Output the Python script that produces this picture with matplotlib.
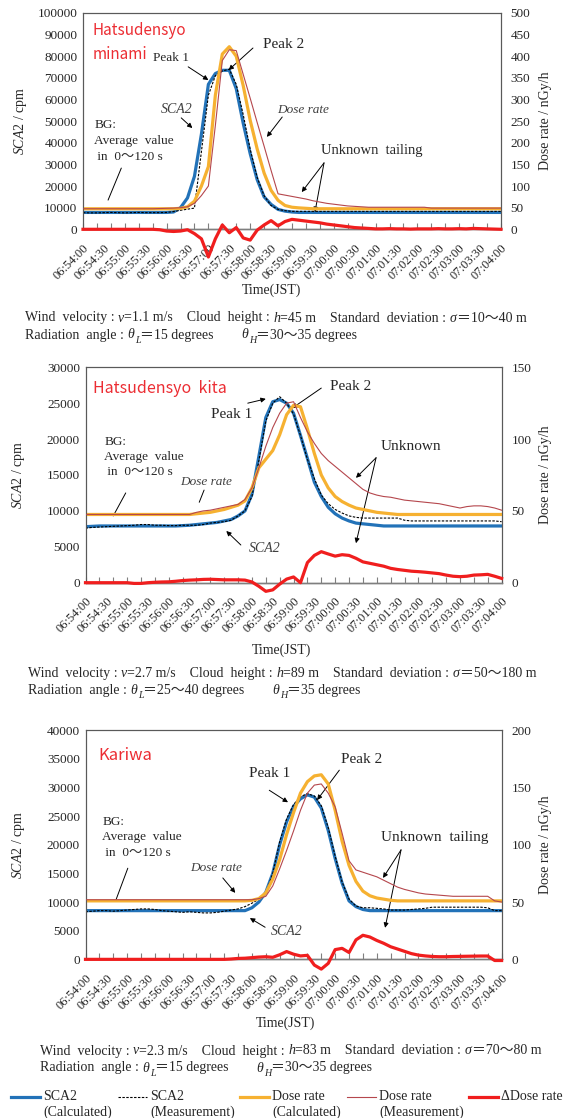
import numpy as np
import matplotlib
matplotlib.use('Agg')
import matplotlib.pyplot as plt
from matplotlib.ticker import MultipleLocator, FormatStrFormatter

plt.rcParams['font.family'] = ['Liberation Serif', 'Noto Sans CJK JP']
plt.rcParams['mathtext.fontset'] = 'custom'
plt.rcParams['mathtext.rm'] = 'Liberation Serif'
plt.rcParams['mathtext.it'] = 'Liberation Serif:italic'

# seconds after 06:54:00, one reading every 10 s
t = np.arange(0, 601, 10)
time_labels = ['06:54:00', '06:54:30', '06:55:00', '06:55:30', '06:56:00', '06:56:30',
               '06:57:00', '06:57:30', '06:58:00', '06:58:30', '06:59:00', '06:59:30',
               '07:00:00', '07:00:30', '07:01:00', '07:01:30', '07:02:00', '07:02:30',
               '07:03:00', '07:03:30', '07:04:00']

# --- Hatsudensyo minami ---
sca2_calc_1 = [7800] * 13 + [8000, 10000, 14500, 24500, 44000, 67000, 72000, 73500, 73500,
                             65000, 49000, 35000, 23000, 15000, 11500, 9200, 8400, 8000] + [7800] * 30
sca2_meas_1 = [7700, 7600, 7600, 7700, 7800, 7700, 7600, 7700, 7800, 7700, 7700, 7700, 7800,
               8200, 8800, 9300, 9800, 36000, 62000, 71000, 73200, 74000, 67000, 53000, 37000,
               24000, 15500, 11000, 9200, 8600] + [8300] * 31
dose_calc_1 = [47.5] * 14 + [48.5, 52, 65, 100, 145, 310, 405, 422, 400, 332, 252, 186, 130,
                             90, 67, 55, 51, 49.5, 48.5] + [47.5] * 28
dose_meas_1 = [47.5] * 11 + [48, 48.5, 49, 50, 52, 60, 78, 100, 240, 390, 415, 413, 358, 303,
                             247, 192, 136, 82, 79, 76, 73, 70, 66, 63, 60, 58, 56, 54, 53, 52] \
              + [51] * 9 + [49] * 11
dose_diff_1 = [0] * 11 + [-1, -4, -5, -4, -1, -10, -22, -64, -22, 10, -8, 4, -20, -25, -2, 10,
                          20, 8, 18, 23, 21, 19, 17, 15, 12, 10, 8, 6, 4, 3, 2] \
              + [1, 1, 1.5, 1, 1, 0.5, 1, 1, 1, 1.5, 1, 1, 1.5, 1, 2, 1.5, 1, 0.5, 0]

# --- Hatsudensyo kita ---
sca2_calc_2 = [7800, 7850] + [7900] * 12 + [7950, 8000, 8100, 8200, 8300, 8400, 8600, 8800,
                                            9300, 10000, 12300, 17600, 23000, 25200, 25500,
                                            25000, 23600, 20500, 17300, 14000, 12000, 10500,
                                            9600, 9000, 8600, 8300, 8200, 8100, 8000] + [7900] * 18
sca2_meas_2 = [7600, 7700, 7750, 7800, 7850, 7900, 7950, 8000, 8100, 8100, 8000, 8000, 7950,
               7950, 8000, 8000, 8000, 8100, 8300, 8400, 8500, 8700, 9300, 10000, 12000, 17000,
               22500, 25000, 25900, 25000, 23500, 20500, 17200, 14500, 12200, 11000, 10200,
               9700, 9300, 9100] + [9000] * 6 + [8700] + [8600] * 13 + [8500]
dose_calc_2 = [47.5] * 16 + [48, 48.5, 49, 50, 51, 52.5, 54, 57, 66, 80, 86, 92, 103, 117, 123.5,
                             122.5, 107, 90, 75, 66, 60, 56.5, 54, 52, 51, 50, 49, 48.5, 48] \
              + [47.5] * 16
dose_meas_2 = [47.5] * 16 + [49, 50, 50.5, 51.5, 52.5, 53.5, 54.5, 58, 66, 80, 95, 108, 118, 125,
                             126, 115, 105, 97, 90, 85, 81, 77, 73, 69, 65, 62.5, 61, 60, 59.5,
                             58.5, 57.5, 57, 56.5, 56, 55.5, 55, 54, 53, 52, 53, 53.5, 53.5, 53,
                             52, 50.5]
dose_diff_2 = [0] * 7 + [-0.5, -0.5, 0, 0.3, 0.5, 0.6, 1, 1.5, 1.8, 2, 2.3, 2.4, 2.2, 2, 2, 2,
                         1.8, 0.5, -2.5, -6, -5, -1, 2.5, 4, 0, 14, 19, 21.6, 20, 18.5, 19.5, 19,
                         17, 14.5, 13.5, 12.5, 11.5, 10, 9.2, 8.6, 8, 7.7, 7.3, 6.8, 6.3, 5.3, 4.5,
                         4.2, 4.5, 5.3, 5.5, 5.8, 4.5, 3]

# --- Kariwa ---
sca2_calc_3 = [8500] * 24 + [9000, 10000, 11700, 15000, 20000, 24000, 26700, 28000, 28700,
                             28300, 26400, 22500, 17600, 13300, 10200, 9200, 8700] + [8500] * 20
sca2_meas_3 = [8300, 8400, 8500, 8500, 8400, 8500, 8600, 8700, 8800, 8800, 8700, 8500, 8400,
               8300, 8200, 8300, 8200, 8100, 8100, 8200, 8400, 8600, 8800, 9200, 9800, 10500,
               11500, 15000, 20500, 24500, 27000, 28400, 28900, 28500, 26800, 23000, 18000,
               13500, 10500, 9300, 9000, 9000, 8900, 8800, 8600, 8600, 8600, 8700, 8800, 8900] \
              + [9100] * 8 + [9000, 8500, 8500]
dose_calc_3 = [51] * 24 + [51.5, 53, 58, 70, 87, 109, 128, 145, 155, 160, 161, 153, 130, 103,
                           82, 68, 59.5, 55.5, 53.5, 52.5, 51.5] + [51] * 16
dose_meas_3 = [52] * 25 + [53, 55, 64, 79, 95, 112, 130, 145, 152, 153, 145, 133, 110, 86, 78,
                           76, 74, 72, 69, 66, 63, 61, 59.5, 58, 57, 56.5, 56, 55.5] \
              + [55] * 6 + [51, 50]
dose_diff_3 = [0] * 21 + [0.3, 0.8, 1, 1.5, 2, 2.3, 1.8, 4, 6.8, 4.5, 3, 3.5, -5, -8.5, -3.5,
                          8.5, 9.6, 6, 17, 21, 19.5, 16.5, 14, 11, 9, 7, 5, 3.7, 3, 2.5, 2.3, 2.3,
                          2.5, 2.6, 2.7, 2.8, 2.9, 2.9, -1, -1]

BLUE = '#2272b8'
ORANGE = '#f6b131'
BROWN = '#b5474d'
RED = '#f01e1e'
TITLE_RED = '#ec2d33'
GRID = '#7f7f7f'
TXT = '#262626'
SANS = ['Noto Sans CJK JP', 'DejaVu Sans']

fig = plt.figure(figsize=(5.7, 11.18), dpi=100)


def draw_panel(rect, sca2_calc, sca2_meas, dose_calc, dose_meas, dose_diff, cpm_max, dose_max,
               ylab_x):
    ax = fig.add_axes(rect)
    ax.plot(t, sca2_calc, color=BLUE, lw=2.3, zorder=2)
    ax.plot(t, sca2_meas, color='black', lw=0.8, ls=(0, (2.2, 1.3)), zorder=3)
    ax.set_xlim(0, 600)
    ax.set_ylim(0, cpm_max)
    ax.yaxis.set_major_locator(MultipleLocator(5000 if cpm_max < 50000 else 10000))
    ax.yaxis.set_major_formatter(FormatStrFormatter('%d'))
    ax.set_xticks(np.arange(0, 601, 30))
    ax.set_xticklabels(time_labels, rotation=45, ha='right', va='top', rotation_mode='anchor')
    ax.xaxis.set_minor_locator(MultipleLocator(20))
    ax.xaxis.remove_overlapping_locs = False
    ax.tick_params(axis='x', which='major', length=0, pad=9, labelsize=9, labelcolor=TXT)
    ax.tick_params(axis='x', which='minor', length=4, direction='in', color=GRID, width=0.8)
    ax.tick_params(axis='y', length=0, pad=4, labelsize=9.5, labelcolor=TXT)
    ax.set_ylabel(r'$\mathit{SCA2}$ / cpm', fontsize=10, color=TXT)
    ax.yaxis.set_label_coords(ylab_x, 0.5)

    ax2 = ax.twinx()
    ax2.plot(t, dose_calc, color=ORANGE, lw=2.3, zorder=2)
    ax2.plot(t, dose_meas, color=BROWN, lw=0.8, zorder=3)
    ax2.plot(t, dose_diff, color=RED, lw=2.3, zorder=4, clip_on=False)
    ax2.set_ylim(0, dose_max)
    ax2.yaxis.set_major_locator(MultipleLocator(50))
    ax2.tick_params(axis='y', length=0, pad=7, labelsize=9.5, labelcolor=TXT)
    ax2.set_ylabel('Dose rate / nGy/h', fontsize=10, color=TXT)
    ax2.yaxis.set_label_coords(1.09, 0.5)
    for a in (ax, ax2):
        for side in ('left', 'top', 'right'):
            a.spines[side].set_color('#595959')
            a.spines[side].set_linewidth(0.8)
        a.spines['bottom'].set_color(GRID)
        a.spines['bottom'].set_linewidth(1.0)
    return ax


def arrow(ax, tail, head, head_on=True):
    ax.annotate('', xy=head, xytext=tail,
                arrowprops=dict(arrowstyle='-|>' if head_on else '-', color='black', lw=0.7,
                                mutation_scale=7, shrinkA=0, shrinkB=0))


def label(ax, x, y, s, size, **kw):
    opts = dict(ha='center', va='center', color=TXT, fontsize=size)
    opts.update(kw)
    ax.text(x, y, s, **opts)


BG_TEXT = 'BG:\nAverage  value\n in  0～120 s'

# ---------- panel 1 ----------
ax = draw_panel([0.1456, 0.7949, 0.7333, 0.1935], sca2_calc_1, sca2_meas_1,
                dose_calc_1, dose_meas_1, dose_diff_1, 100000, 500, -0.128)
label(ax, 14, 92100, 'Hatsudensyo', 11, ha='left', color=TITLE_RED, family=SANS)
label(ax, 14, 80600, 'minami', 11, ha='left', color=TITLE_RED, family=SANS)
label(ax, 127, 79000, 'Peak 1', 9.5)
arrow(ax, (151, 75100), (180, 69000))
label(ax, 288, 85200, 'Peak 2', 11)
arrow(ax, (244, 83800), (209, 73600))
label(ax, 134, 55600, 'SCA2', 10, style='italic', color='#404040')
arrow(ax, (141, 51500), (157, 46800))
label(ax, 316, 55100, 'Dose rate', 9.5, style='italic', color='#404040')
arrow(ax, (286, 51900), (264, 42700))
label(ax, 16, 40800, BG_TEXT, 9.5, ha='left', linespacing=1.4)
arrow(ax, (55, 28300), (36, 13500), head_on=False)
label(ax, 414, 36600, 'Unknown  tailing', 10.5)
arrow(ax, (346, 30700), (314, 17200))
arrow(ax, (346, 30700), (333, 8000))

# ---------- panel 2 ----------
ax = draw_panel([0.150, 0.4788, 0.730, 0.1927], sca2_calc_2, sca2_meas_2,
                dose_calc_2, dose_meas_2, dose_diff_2, 30000, 150, -0.14)
label(ax, 11, 27100, 'Hatsudensyo  kita', 11.5, ha='left', color=TITLE_RED, family=SANS)
label(ax, 210, 23400, 'Peak 1', 11)
arrow(ax, (234, 25000), (260, 25600))
label(ax, 383, 27300, 'Peak 2', 11)
arrow(ax, (340, 27100), (298, 24300))
label(ax, 27, 17500, BG_TEXT, 9.5, ha='left', linespacing=1.35)
arrow(ax, (58, 12500), (40, 9300), head_on=False)
label(ax, 174, 14000, 'Dose rate', 9.5, style='italic', color='#404040')
arrow(ax, (171, 12900), (164, 11200), head_on=False)
label(ax, 258, 4800, 'SCA2', 10, style='italic', color='#404040')
arrow(ax, (224, 5250), (203, 7200))
label(ax, 469, 18900, 'Unknown', 11)
arrow(ax, (419, 17400), (390, 14600))
arrow(ax, (419, 17400), (390, 5500))

# ---------- panel 3 ----------
ax = draw_panel([0.150, 0.1419, 0.730, 0.2051], sca2_calc_3, sca2_meas_3,
                dose_calc_3, dose_meas_3, dose_diff_3, 40000, 200, -0.14)
label(ax, 18, 35600, 'Kariwa', 12, ha='left', color=TITLE_RED, family=SANS)
label(ax, 265, 32500, 'Peak 1', 11)
arrow(ax, (265, 29500), (292, 27400))
label(ax, 398, 34800, 'Peak 2', 11)
arrow(ax, (366, 33000), (334, 27800))
label(ax, 24, 21300, BG_TEXT, 9.5, ha='left', linespacing=1.4)
arrow(ax, (61, 15900), (44, 10400), head_on=False)
label(ax, 189, 15900, 'Dose rate', 9.5, style='italic', color='#404040')
arrow(ax, (198, 14200), (216, 11600))
label(ax, 290, 4900, 'SCA2', 10, style='italic', color='#404040')
arrow(ax, (259, 5600), (237, 7200))
label(ax, 503, 21300, 'Unknown  tailing', 11)
arrow(ax, (455, 19100), (429, 14200))
arrow(ax, (455, 19100), (432, 5500))

# ---------- figure-level texts (pixel coordinates of the page) ----------
over = fig.add_axes([0, 0, 1, 1])
over.set_xlim(0, 570)
over.set_ylim(1118, 0)
over.axis('off')


def rich_line(x, y, parts, size=10):
    prev = None
    base = None
    for s, kind in parts:
        kw = dict(fontsize=size, color=TXT, ha='left', va='bottom')
        if kind == 'i':
            kw['style'] = 'italic'
        if kind == 'sub':
            kw.update(style='italic', fontsize=size * 0.72)
            prev = over.annotate(s, xy=(1, 0), xycoords=prev, xytext=(0.3, -2.2),
                                 textcoords='offset points', **kw)
            continue
        if prev is None:
            prev = over.text(x, y, s, **kw)
        elif base is not None:
            prev = over.annotate(s, xy=(1, 0), xycoords=(prev, base), **kw)
        else:
            prev = over.annotate(s, xy=(1, 0), xycoords=prev, **kw)
        base = prev


def params(y, x, v, h, sig, thl, thh):
    rich_line(x, y, [('Wind  velocity : ', ''), ('v', 'i'), ('=%s m/s    Cloud  height : ' % v, ''),
                     ('h', 'i'), ('=%s m    Standard  deviation : ' % h, ''), ('σ', 'i'),
                     ('＝%s m' % sig, '')])
    rich_line(x, y + 17, [('Radiation  angle : ', ''), ('θ', 'i'), ('L', 'sub'),
                          ('＝%s degrees        ' % thl, ''), ('θ', 'i'), ('H', 'sub'),
                          ('＝%s degrees' % thh, '')])


over.text(272, 290, 'Time(JST)', ha='center', va='center', fontsize=10, color=TXT)
params(324.5, 25, '1.1', '45', '10～40', '15', '30～35')
over.text(281, 650, 'Time(JST)', ha='center', va='center', fontsize=10, color=TXT)
params(680, 28, '2.7', '89', '50～180', '25～40', '35')
over.text(286, 1023, 'Time(JST)', ha='center', va='center', fontsize=10, color=TXT)
params(1057.5, 40, '2.3', '83', '70～80', '15', '30～35')

# legend drawn by hand so that the key line sits on the first text line
legend_items = [('SCA2', '(Calculated)', dict(color=BLUE, lw=2.3)),
                ('SCA2', '(Measurement)', dict(color='black', lw=0.8, ls=(0, (2.2, 1.3)))),
                ('Dose rate', '(Calculated)', dict(color=ORANGE, lw=2.3)),
                ('Dose rate', '(Measurement)', dict(color=BROWN, lw=0.8)),
                ('ΔDose rate', '', dict(color=RED, lw=2.3))]
legend_x = [11, 118, 240, 347, 469]
for (name, sub, style), lx in zip(legend_items, legend_x):
    over.plot([lx, lx + 29], [1097, 1097], **style)
    over.text(lx + 32, 1097, name, ha='left', va='center', fontsize=10, color=TXT)
    if sub:
        over.text(lx + 32, 1112, sub, ha='left', va='center', fontsize=10, color=TXT)

fig.savefig('out.png', dpi=100)
